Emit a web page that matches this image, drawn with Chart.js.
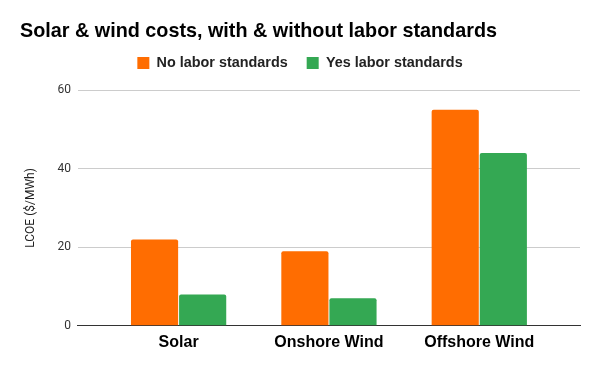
<!DOCTYPE html>
<html>
<head>
<meta charset="utf-8">
<script src="https://cdn.jsdelivr.net/npm/chart.js@4"></script>
<style>
  body { margin: 0; background: #fff; }
  #wrap { width: 600px; height: 371px; }
</style>
</head>
<body>
<div id="wrap"><canvas id="costChart"></canvas></div>
<script>
const categories = ['Solar', 'Onshore Wind', 'Offshore Wind'];
const noLabor = [22, 19, 55];
const yesLabor = [8, 7, 44];
const yTicks = [0, 20, 40, 60];

// bars sit on a numeric x axis so the groups can be inset from the plot edges
const toPoints = values => values.map((v, i) => ({ x: i, y: v }));

// extra room under the legend before the plot starts
const legendGap = {
    id: 'legendGap',
    beforeUpdate(chart) {
        const legend = chart.legend;
        if (!legend || legend._gapPatched) return;
        const fit = legend.fit;
        legend.fit = function() {
            fit.call(this);
            this.height += 10;
        };
        legend._gapPatched = true;
    }
};

const ctx = document.getElementById('costChart').getContext('2d');
new Chart(ctx, {
    type: 'bar',
    data: {
        datasets: [{
            label: 'No labor standards',
            data: toPoints(noLabor),
            backgroundColor: '#ff6d01',
            borderRadius: { topLeft: 2, topRight: 2 },
            borderSkipped: 'bottom'
        }, {
            label: 'Yes labor standards',
            data: toPoints(yesLabor),
            backgroundColor: '#34a853',
            borderRadius: { topLeft: 2, topRight: 2 },
            borderSkipped: 'bottom'
        }]
    },
    plugins: [legendGap],
    options: {
        responsive: true,
        maintainAspectRatio: false,
        animation: false,
        layout: { padding: { left: 20, right: 20, top: 12, bottom: 12 } },
        datasets: { bar: { categoryPercentage: 0.64, barPercentage: 0.98 } },
        plugins: {
            title: {
                display: true,
                text: 'Solar & wind costs, with & without labor standards',
                align: 'start',
                color: '#000',
                font: { family: 'Liberation Sans', size: 19.8, weight: 'bold' },
                padding: { top: 8, bottom: -7 }
            },
            legend: {
                position: 'top',
                labels: {
                    color: '#222',
                    font: { family: 'Liberation Sans', size: 14.4, weight: 'bold' },
                    boxWidth: 12,
                    boxHeight: 12,
                    padding: 19
                }
            },
            tooltip: { enabled: false }
        },
        scales: {
            x: {
                type: 'linear',
                min: -0.67,
                max: 2.67,
                offset: false,
                afterBuildTicks: axis => { axis.ticks = categories.map((c, i) => ({ value: i })); },
                grid: { display: false, drawTicks: false, tickLength: 0 },
                border: { color: '#333', width: 1 },
                ticks: {
                    color: '#000',
                    font: { family: 'Liberation Sans', size: 16, weight: 'bold' },
                    padding: 7,
                    maxRotation: 0,
                    callback: value => categories[value]
                }
            },
            y: {
                min: 0,
                max: 60,
                afterBuildTicks: axis => { axis.ticks = yTicks.map(v => ({ value: v })); },
                grid: { color: '#cccccc', drawTicks: false },
                border: { display: false },
                ticks: {
                    color: '#333',
                    font: { family: 'Roboto', size: 12 },
                    padding: 7
                },
                title: {
                    display: true,
                    text: 'LCOE ($/MWh)',
                    color: '#222',
                    font: { family: 'Roboto', size: 12 },
                    padding: { bottom: 12 }
                }
            }
        }
    }
});
</script>
</body>
</html>
